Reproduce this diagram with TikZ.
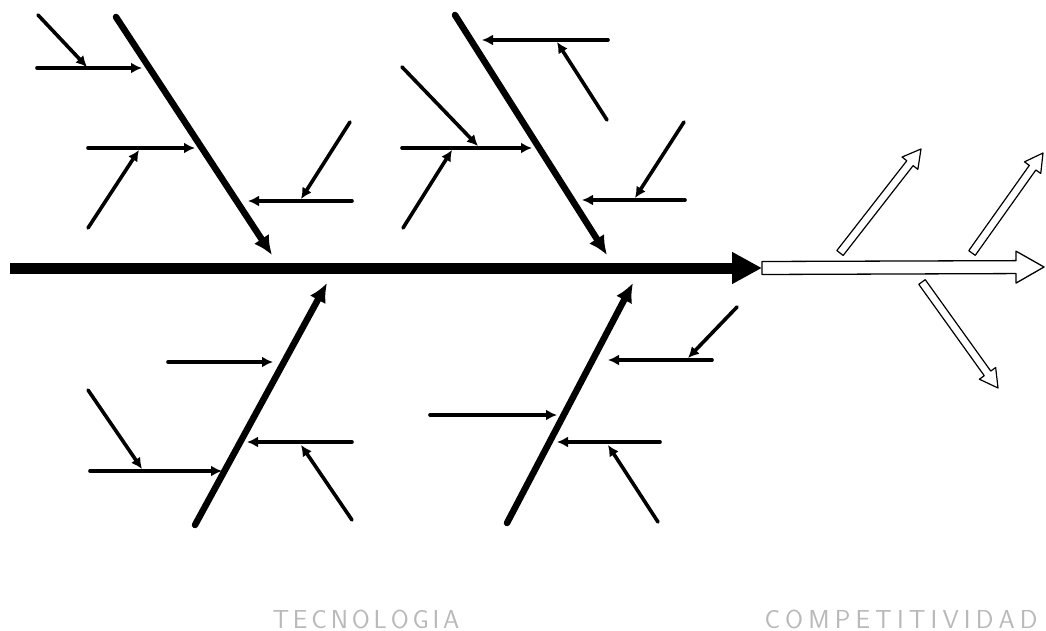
\documentclass[tikz,border=0pt]{standalone}
\usepackage{tikz}
\usetikzlibrary{arrows.meta, calc}

\begin{document}
\begin{tikzpicture}[
    x=1pt, y=-1pt,
    spine/.style={
        line width=11pt,
        -{Triangle[length=30pt, width=30pt]}
    },
    bone/.style={
        line width=6.5pt,
        line cap=round,
        -{Latex[length=19pt, width=18pt]}
    },
    twig/.style={
        line width=3.6pt,
        line cap=round,
        -{Latex[length=11pt, width=11pt]}
    },
    hollowbig/.style={
        draw,
        line width=1.3pt,
        line join=round,
        to path={
            ($(\tikztostart)!6.5pt!-90:(\tikztotarget)$)
            -- ($(\tikztotarget)!28.74pt!13.0:(\tikztostart)$)
            -- ($(\tikztotarget)!32.25pt!29.7:(\tikztostart)$)
            -- (\tikztotarget)
            -- ($(\tikztotarget)!32.25pt!-29.7:(\tikztostart)$)
            -- ($(\tikztotarget)!28.74pt!-13.0:(\tikztostart)$)
            -- ($(\tikztostart)!6.5pt!90:(\tikztotarget)$) -- cycle
        }
    },
    hollowsmall/.style={
        draw,
        line width=1.2pt,
        line join=round,
        to path={
            ($(\tikztostart)!4pt!-90:(\tikztotarget)$)
            -- ($(\tikztotarget)!18.44pt!12.5:(\tikztostart)$)
            -- ($(\tikztotarget)!20.59pt!29.1:(\tikztostart)$)
            -- (\tikztotarget)
            -- ($(\tikztotarget)!20.59pt!-29.1:(\tikztostart)$)
            -- ($(\tikztotarget)!18.44pt!-12.5:(\tikztostart)$)
            -- ($(\tikztostart)!4pt!90:(\tikztotarget)$) -- cycle
        }
    },
    caption/.style={
        font=\fontsize{26}{26}\selectfont\sffamily,
        text=gray!55,
        inner sep=0pt
    }
]
\useasboundingbox (0,0) rectangle (1046,631);

% Spine and effect
\coordinate (S0) at (10,268);
\coordinate (S1) at (762,268);
\coordinate (E1) at (1044,267);
\draw[spine] (S0) -- (S1);
\draw[hollowbig] (S1) to (E1);

% Effect branches
\coordinate (F1a) at (840,253);  \coordinate (F1b) at (921,149);
\coordinate (F2a) at (972,253);  \coordinate (F2b) at (1043,153);
\coordinate (F3a) at (922,282);  \coordinate (F3b) at (998,388);
\draw[hollowsmall] (F1a) to (F1b);
\draw[hollowsmall] (F2a) to (F2b);
\draw[hollowsmall] (F3a) to (F3b);

% Upper left bone
\coordinate (A0) at (116,17);
\coordinate (A1) at (272,255);
\draw[bone] (A0) -- (A1);
\coordinate (a1) at (37,68);   \coordinate (a2) at (142,68);
\coordinate (a3) at (38,15);   \coordinate (a4) at (87,67);
\coordinate (a5) at (88,148);  \coordinate (a6) at (195,148);
\coordinate (a7) at (88,228);  \coordinate (a8) at (139,150);
\coordinate (a9) at (352,201); \coordinate (a10) at (248,201);
\coordinate (a11) at (350,122); \coordinate (a12) at (301,199);
\draw[twig] (a1) -- (a2);
\draw[twig] (a3) -- (a4);
\draw[twig] (a5) -- (a6);
\draw[twig] (a7) -- (a8);
\draw[twig] (a9) -- (a10);
\draw[twig] (a11) -- (a12);

% Upper right bone
\coordinate (B0) at (455,15);
\coordinate (B1) at (607,255);
\draw[bone] (B0) -- (B1);
\coordinate (b1) at (608,40);  \coordinate (b2) at (482,40);
\coordinate (b3) at (607,120); \coordinate (b4) at (557,42);
\coordinate (b5) at (402,67);  \coordinate (b6) at (478,146);
\coordinate (b7) at (402,148); \coordinate (b8) at (532,148);
\coordinate (b9) at (403,228); \coordinate (b10) at (452,150);
\coordinate (b11) at (685,200); \coordinate (b12) at (582,200);
\coordinate (b13) at (684,122); \coordinate (b14) at (635,198);
\draw[twig] (b1) -- (b2);
\draw[twig] (b3) -- (b4);
\draw[twig] (b5) -- (b6);
\draw[twig] (b7) -- (b8);
\draw[twig] (b9) -- (b10);
\draw[twig] (b11) -- (b12);
\draw[twig] (b13) -- (b14);

% Lower left bone
\coordinate (C0) at (195,525);
\coordinate (C1) at (327,283);
\draw[bone] (C0) -- (C1);
\coordinate (c1) at (168,362); \coordinate (c2) at (273,362);
\coordinate (c3) at (88,390);  \coordinate (c4) at (142,469);
\coordinate (c5) at (90,471);  \coordinate (c6) at (222,471);
\coordinate (c7) at (352,442); \coordinate (c8) at (247,442);
\coordinate (c9) at (352,520); \coordinate (c10) at (301,445);
\draw[twig] (c1) -- (c2);
\draw[twig] (c3) -- (c4);
\draw[twig] (c5) -- (c6);
\draw[twig] (c7) -- (c8);
\draw[twig] (c9) -- (c10);

% Lower right bone
\coordinate (D0) at (507,523);
\coordinate (D1) at (633,283);
\draw[bone] (D0) -- (D1);
\coordinate (d1) at (712,360); \coordinate (d2) at (608,360);
\coordinate (d3) at (737,307); \coordinate (d4) at (688,358);
\coordinate (d5) at (430,415); \coordinate (d6) at (557,415);
\coordinate (d7) at (660,442); \coordinate (d8) at (557,442);
\coordinate (d9) at (658,522); \coordinate (d10) at (608,445);
\draw[twig] (d1) -- (d2);
\draw[twig] (d3) -- (d4);
\draw[twig] (d5) -- (d6);
\draw[twig] (d7) -- (d8);
\draw[twig] (d9) -- (d10);

% Captions (spaced capitals)
\node[caption] (tec) at (366,619)
    {\makebox[187pt][s]{T\hfil E\hfil C\hfil N\hfil O\hfil L\hfil O\hfil G\hfil I\hfil A}};
\node[caption] (comp) at (901,619)
    {\makebox[273pt][s]{C\hfil O\hfil M\hfil P\hfil E\hfil T\hfil I\hfil T\hfil I\hfil V\hfil I\hfil D\hfil A\hfil D}};

\end{tikzpicture}
\end{document}
